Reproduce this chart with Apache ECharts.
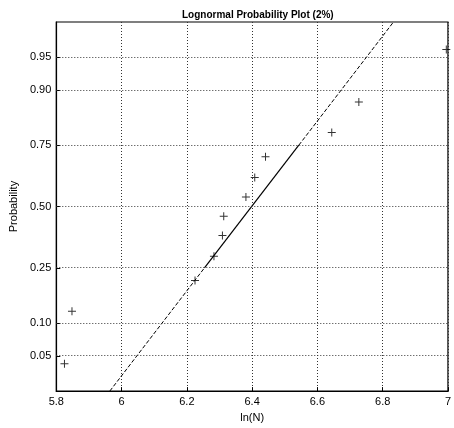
<!DOCTYPE html>
<html><head><meta charset="utf-8">
<script src="https://cdn.jsdelivr.net/npm/echarts@6/dist/echarts.min.js"></script>
<style>html,body{margin:0;padding:0;background:#fff}#c{width:454px;height:428px}</style>
</head><body><div id="c"></div>
<script>
// ---- data ----
const lnN = [5.825, 5.848, 6.225, 6.283, 6.309, 6.313, 6.381, 6.408, 6.441, 6.644, 6.727, 6.995];
const prob = [0.042, 0.125, 0.208, 0.292, 0.375, 0.458, 0.542, 0.625, 0.708, 0.792, 0.875, 0.958];
const fitLowX = [5.964, 6.254];   const fitLowP = [0.0212, 0.25];
const fitMidX = [6.254, 6.543];   const fitMidP = [0.25, 0.75];
const fitHighX = [6.543, 6.833];  const fitHighP = [0.75, 0.9788];
const yTickProbs = [0.05, 0.10, 0.25, 0.50, 0.75, 0.90, 0.95];
const yTickLabels = ['0.05', '0.10', '0.25', '0.50', '0.75', '0.90', '0.95'];
const xTicks = [5.8, 6, 6.2, 6.4, 6.6, 6.8, 7];

// normal probability scale (inverse normal CDF, Acklam)
function probit(p) {
  const a = [-3.969683028665376e+01, 2.209460984245205e+02, -2.759285104469687e+02, 1.383577518672690e+02, -3.066479806614716e+01, 2.506628277459239e+00];
  const b = [-5.447609879822406e+01, 1.615858368580409e+02, -1.556989798598866e+02, 6.680131188771972e+01, -1.328068155288572e+01];
  const c = [-7.784894002430293e-03, -3.223964580411365e-01, -2.400758277161838e+00, -2.549732539343734e+00, 4.374664141464968e+00, 2.938163982698783e+00];
  const d = [7.784695709041462e-03, 3.224671290700398e-01, 2.445134137142996e+00, 3.754408661907416e+00];
  const pl = 0.02425, ph = 1 - pl;
  let q, r;
  if (p < pl) { q = Math.sqrt(-2 * Math.log(p));
    return (((((c[0]*q+c[1])*q+c[2])*q+c[3])*q+c[4])*q+c[5]) / ((((d[0]*q+d[1])*q+d[2])*q+d[3])*q+1); }
  if (p <= ph) { q = p - 0.5; r = q * q;
    return (((((a[0]*r+a[1])*r+a[2])*r+a[3])*r+a[4])*r+a[5])*q / (((((b[0]*r+b[1])*r+b[2])*r+b[3])*r+b[4])*r+1); }
  q = Math.sqrt(-2 * Math.log(1 - p));
  return -(((((c[0]*q+c[1])*q+c[2])*q+c[3])*q+c[4])*q+c[5]) / ((((d[0]*q+d[1])*q+d[2])*q+d[3])*q+1);
}
const pts = (xs, ps) => xs.map((x, i) => [x, probit(ps[i])]);
const yTickZ = yTickProbs.map(probit);
const labelMap = {};
yTickZ.forEach((z, i) => { labelMap[z.toFixed(6)] = yTickLabels[i]; });

const FONT = 'Liberation Sans';
const plus = 'path://M3.5,0h1v8h-1z M0,3.5h8v1h-8z';
const gridStyle = { color: '#333', width: 1, type: [1, 2] };

const chart = echarts.init(document.getElementById('c'), null, { renderer: 'canvas' });
chart.setOption({
  animation: false,
  backgroundColor: '#fff',
  title: {
    text: 'Lognormal Probability Plot (2%)', left: 177, top: 5,
    textStyle: { fontFamily: FONT, fontSize: 10, fontWeight: 'bold', color: '#000' }
  },
  grid: { left: 46, right: 2, top: 22, bottom: 36, show: true, borderColor: '#000', borderWidth: 1.2 },
  xAxis: {
    type: 'value', min: 5.8, max: 7, interval: 0.2,
    name: 'ln(N)', nameLocation: 'middle', nameGap: 18,
    nameTextStyle: { fontFamily: FONT, fontSize: 11, color: '#000' },
    axisLine: { show: true, onZero: false, lineStyle: { color: '#000', width: 1.2 } },
    axisTick: { show: true, inside: true, length: 4, lineStyle: { color: '#000' } },
    axisLabel: { fontFamily: FONT, fontSize: 11, color: '#000', margin: 5,
      formatter: v => String(Math.round(v * 10) / 10) },
    splitLine: { show: true, lineStyle: gridStyle }
  },
  yAxis: {
    type: 'value', min: -2.03, max: 2.03,
    name: 'Probability', nameLocation: 'middle', nameGap: 28, nameRotate: 90,
    nameTextStyle: { fontFamily: FONT, fontSize: 11, color: '#000' },
    axisLine: { show: true, onZero: false, lineStyle: { color: '#000', width: 1.2 } },
    axisTick: { show: true, inside: true, length: 4, customValues: yTickZ, lineStyle: { color: '#000' } },
    axisLabel: { fontFamily: FONT, fontSize: 11, color: '#000', margin: 5, customValues: yTickZ,
      formatter: v => labelMap[Number(v).toFixed(6)] || '' },
    splitLine: { show: false }
  },
  series: [
    {
      type: 'line', data: pts(fitMidX, fitMidP), symbol: 'none', silent: true,
      lineStyle: { color: '#000', width: 1.2 }, z: 3,
      markLine: {
        silent: true, symbol: 'none', label: { show: false },
        lineStyle: gridStyle, animation: false,
        data: yTickZ.map(z => ({ yAxis: z }))
      }
    },
    { type: 'line', data: pts(fitLowX, fitLowP), symbol: 'none', silent: true,
      lineStyle: { color: '#000', width: 1, type: [4, 2] }, z: 3 },
    { type: 'line', data: pts(fitHighX, fitHighP), symbol: 'none', silent: true,
      lineStyle: { color: '#000', width: 1, type: [4, 2] }, z: 3 },
    {
      type: 'scatter', data: pts(lnN, prob), symbol: plus, symbolSize: 8,
      itemStyle: { color: '#000' }, z: 4
    }
  ]
});
</script>
</body></html>
